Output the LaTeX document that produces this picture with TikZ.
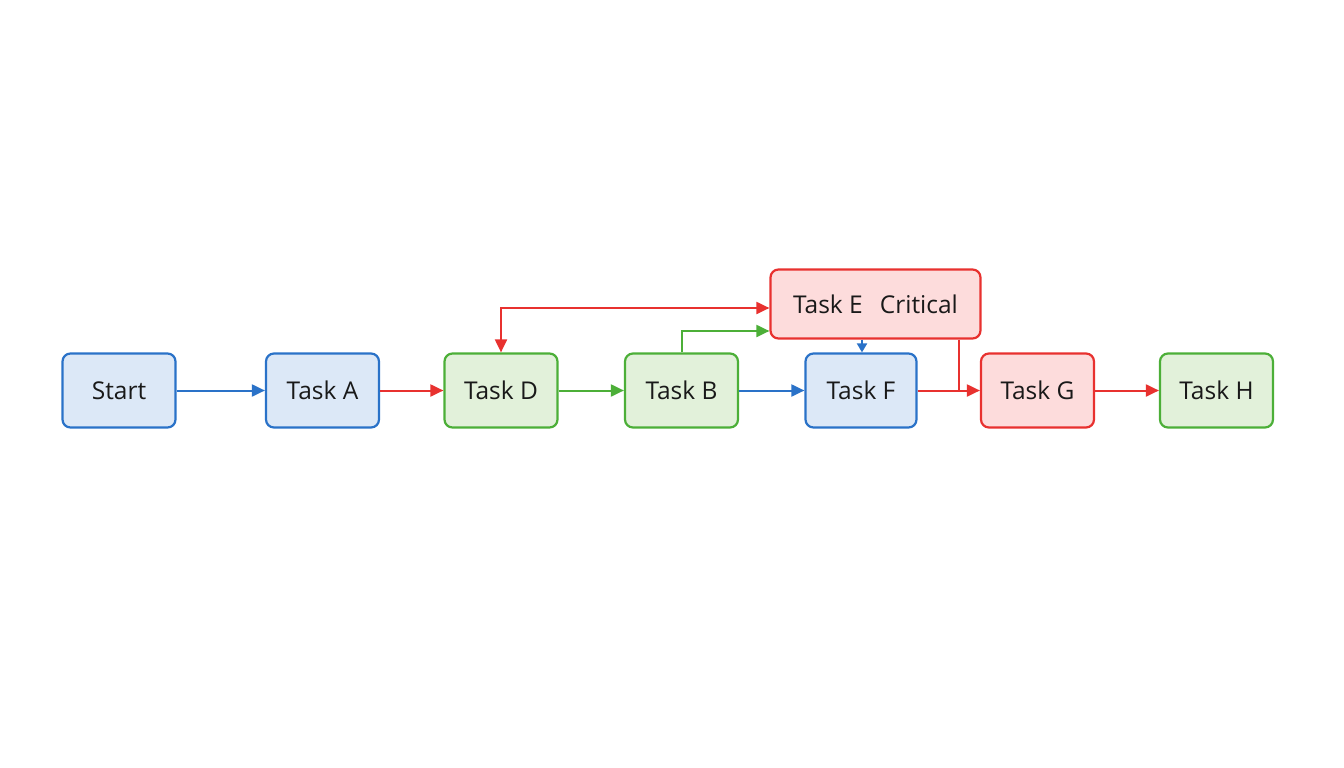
\documentclass[tikz,border=0pt]{standalone}
\usepackage{fontspec}
\setmainfont{Open Sans}
\usetikzlibrary{arrows.meta}
\definecolor{bblue}{HTML}{2A72C8}
\definecolor{fblue}{HTML}{DCE8F7}
\definecolor{bgreen}{HTML}{4CAF38}
\definecolor{fgreen}{HTML}{E2F1DA}
\definecolor{bred}{HTML}{E8312F}
\definecolor{fred}{HTML}{FDDCDC}
\begin{document}
\begin{tikzpicture}[x=1pt,y=-1pt,
  box/.style={draw,line width=2.2pt,rounded corners=8pt,minimum width=113pt,minimum height=74pt,inner sep=0pt,font=\fontsize{24.5}{28}\selectfont,text=black!90},
  bluebox/.style={box,draw=bblue,fill=fblue},
  greenbox/.style={box,draw=bgreen,fill=fgreen},
  redbox/.style={box,draw=bred,fill=fred},
  conn/.style={line width=2pt,-{Triangle[length=13pt,width=12pt]}},
  ]
\useasboundingbox (0,0) rectangle (1344,768);
\node[bluebox] (start) at (119,390.5) {Start};
\node[bluebox] (a) at (322.5,390.5) {Task A};
\node[greenbox] (d) at (501,390.5) {Task D};
\node[greenbox] (b) at (681.5,390.5) {Task B};
\node[bluebox,minimum width=111pt] (f) at (861,390.5) {Task F};
\node[redbox] (g) at (1037.5,390.5) {Task G};
\node[greenbox] (h) at (1216.5,390.5) {Task H};
\node[redbox,minimum width=210pt,minimum height=69pt] (e) at (875.5,304) {Task E\hspace{0.7em}Critical};
\draw[conn,bblue] (start) -- (a);
\draw[conn,bred] (a) -- (d);
\draw[conn,bgreen] (d) -- (b);
\draw[conn,bblue] (b) -- (f);
\draw[conn,bred] (f) -- (g);
\draw[conn,bred] (g) -- (h);
\draw[conn,bred,{Triangle[length=13pt,width=12pt]}-{Triangle[length=13pt,width=12pt]}] (d.north) |- (e.west |- 0,308);
\draw[conn,bgreen] (b.north) |- (e.west |- 0,331);
\draw[conn,bblue,-{Triangle[length=9pt,width=10pt]}] (e.south -| 862,0) -- (f.north -| 862,0);
\draw[line width=2pt,bred] (e.south -| 959,0) -- (959,390.5);
\end{tikzpicture}
\end{document}
